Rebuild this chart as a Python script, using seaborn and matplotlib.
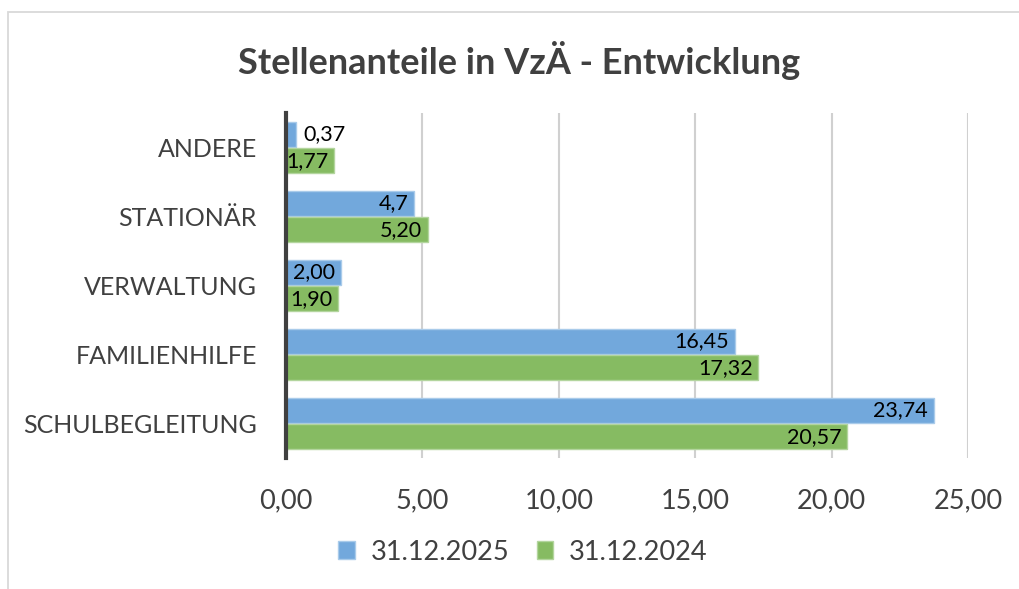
import matplotlib
matplotlib.use("Agg")
import matplotlib.pyplot as plt
import seaborn as sns
import pandas as pd
from matplotlib.patches import Rectangle
from matplotlib.ticker import FuncFormatter

categories = ["ANDERE", "STATIONÄR", "VERWALTUNG", "FAMILIENHILFE", "SCHULBEGLEITUNG"]
series_names = ["31.12.2025", "31.12.2024"]
values_2025 = [0.37, 4.7, 2.00, 16.45, 23.74]
values_2024 = [1.77, 5.20, 1.90, 17.32, 20.57]
labels_2025 = ["0,37", "4,7", "2,00", "16,45", "23,74"]
labels_2024 = ["1,77", "5,20", "1,90", "17,32", "20,57"]
x_ticks = [0, 5, 10, 15, 20, 25]

sns.set_theme(style="white")
FONT = ["Lato", "DejaVu Sans"]
plt.rcParams["font.family"] = FONT

df = pd.DataFrame({
    "Kategorie": categories * 2,
    "Wert": values_2025 + values_2024,
    "Serie": [series_names[0]] * len(categories) + [series_names[1]] * len(categories),
})

W, H = 1019, 589
fig = plt.figure(figsize=(W / 100, H / 100), dpi=100)
# chart frame
fig.patches.append(Rectangle((8 / W, -0.1), 1.2, (H - 12) / H + 0.1, transform=fig.transFigure,
                             fill=False, edgecolor="#D9D9D9", linewidth=1.3))

ax = fig.add_axes([286 / W, 1 - 458 / H, (968 - 286) / W, (458 - 113) / H])
palette = {series_names[0]: "#72A8DC", series_names[1]: "#86BB62"}
edges = {series_names[0]: "#A9CBEA", series_names[1]: "#B3D59E"}
sns.barplot(data=df, y="Kategorie", x="Wert", hue="Serie", order=categories,
            hue_order=series_names, palette=palette, orient="h", width=0.76, gap=0.03,
            ax=ax, legend=False, saturation=1)

for cont, name in zip(ax.containers, series_names):
    for bar in cont:
        bar.set_edgecolor(edges[name])
        bar.set_linewidth(1.0)

ax.set_xlim(0, 25)
ax.set_ylim(len(categories) - 0.5, -0.5)
ax.set_xticks(x_ticks)
ax.xaxis.set_major_formatter(FuncFormatter(lambda v, p: f"{v:.2f}".replace(".", ",")))
ax.grid(axis="x", color="#D0D0D0", linewidth=1.5)
ax.set_axisbelow(True)
for s in ["top", "right", "bottom"]:
    ax.spines[s].set_visible(False)
ax.spines["left"].set_color("#404040")
ax.spines["left"].set_linewidth(3)
ax.spines["left"].set_zorder(5)
ax.set_xlabel("")
ax.set_ylabel("")
ax.tick_params(axis="x", length=0, pad=22, labelsize=19.5, labelcolor="#404040")
ax.tick_params(axis="y", length=0, pad=21, labelsize=18, labelcolor="#404040")

for cont, labs in zip(ax.containers, [labels_2025, labels_2024]):
    for bar, lab in zip(cont, labs):
        v = bar.get_width()
        yc = bar.get_y() + bar.get_height() / 2
        if v < 1.0:
            ax.annotate(lab, (v, yc), xytext=(5, 0), textcoords="offset points",
                        ha="left", va="center", fontsize=15.5, color="black")
        else:
            ax.annotate(lab, (v, yc), xytext=(-4, 0), textcoords="offset points",
                        ha="right", va="center", fontsize=15.5, color="black")

fig.text(519 / W, 1 - 60 / H, "Stellenanteile in VzÄ - Entwicklung", ha="center", va="center",
         fontsize=26, fontweight="bold", color="#404040")

handles = [Rectangle((0, 0), 1, 1, facecolor=palette[n], edgecolor=edges[n]) for n in series_names]
fig.legend(handles, series_names, loc="center", bbox_to_anchor=(523 / W, 1 - 552 / H), ncol=2,
           frameon=False, fontsize=19.5, handlelength=0.6, handleheight=0.6, columnspacing=1.0,
           handletextpad=0.6, labelcolor="#404040")

fig.savefig("out.png", dpi=100)
